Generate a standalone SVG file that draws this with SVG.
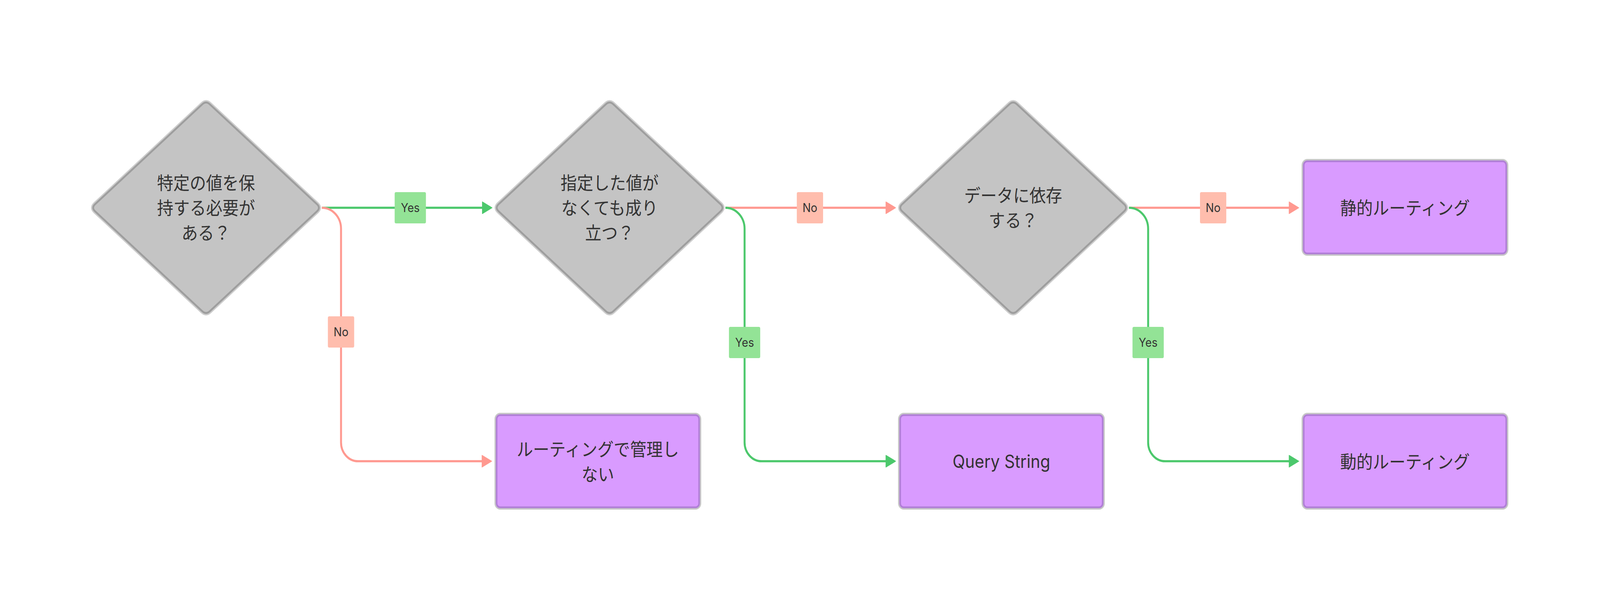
<svg xmlns="http://www.w3.org/2000/svg" xmlns:xlink="http://www.w3.org/1999/xlink" width="4504" height="1562" viewBox="0 0 4504 1562" preserveAspectRatio="none" style="width:100vw;height:100vh;display:block">
  <style>
    .dOuter { fill: #c4c4c4; stroke: #cdcdcd; stroke-width: 12; stroke-linejoin: round; }
    .dInner { fill: #c4c4c4; stroke: #9e9e9e; stroke-width: 5; stroke-linejoin: round; }
    .rOuter { fill: none; stroke: #c8c8c8; stroke-width: 12; }
    .rInner { fill: #d99bff; stroke: #b07fd6; stroke-width: 4.5; }
    .t { font-family: "Noto Sans CJK JP", "Inter", sans-serif; font-size: 46px; fill: #333333; text-anchor: middle; }
    .tl { font-family: "Inter", "Noto Sans CJK JP", sans-serif; font-size: 46px; fill: #333333; text-anchor: middle; }
    .eg { fill: none; stroke: #4cc86c; stroke-width: 5.5; }
    .er { fill: none; stroke: #ff9990; stroke-width: 5.5; }
    .lg { fill: #93e396; }
    .lr { fill: #ffbdad; }
    .lt { font-family: "Inter", "Liberation Sans", sans-serif; font-size: 31px; fill: #333333; text-anchor: middle; }
  </style>
  <defs>
    <path id="dshape" d="M10.68,-264.94 L312.32,-9.06 Q323,0 312.32,9.06 L10.68,264.94 Q0,274 -10.68,264.94 L-312.32,9.06 Q-323,0 -312.32,-9.06 L-10.68,-264.94 Q0,-274 10.68,-264.94 Z"/>
    <marker id="ag" markerUnits="userSpaceOnUse" markerWidth="32" markerHeight="34" viewBox="0 0 32 34" refX="1" refY="17" orient="auto">
      <path d="M1,2 L28,17 L1,32 Z" fill="#4cc86c" stroke="#4cc86c" stroke-width="2" stroke-linejoin="round"/>
    </marker>
    <marker id="ar" markerUnits="userSpaceOnUse" markerWidth="32" markerHeight="34" viewBox="0 0 32 34" refX="1" refY="17" orient="auto">
      <path d="M1,2 L28,17 L1,32 Z" fill="#ff9990" stroke="#ff9990" stroke-width="2" stroke-linejoin="round"/>
    </marker>
  </defs>
  <rect x="0" y="0" width="4504" height="1562" fill="#ffffff"/>

  <g id="connectors">
    <path id="e1" class="eg" d="M906,532 H1358" marker-end="url(#ag)"/>
    <path id="e2" class="er" d="M906,532 A54,54 0 0 1 960,586 V1133 A48,48 0 0 0 1008,1181 H1357" marker-end="url(#ar)"/>
    <path id="e3" class="er" d="M2042,532 H2494" marker-end="url(#ar)"/>
    <path id="e4" class="eg" d="M2042,532 A54,54 0 0 1 2096,586 V1133 A48,48 0 0 0 2144,1181 H2494" marker-end="url(#ag)"/>
    <path id="e5" class="er" d="M3178,532 H3629" marker-end="url(#ar)"/>
    <path id="e6" class="eg" d="M3178,532 A54,54 0 0 1 3232,586 V1133 A48,48 0 0 0 3280,1181 H3629" marker-end="url(#ag)"/>
    <g id="edge-labels">
      <rect class="lg" x="1111" y="492" width="88" height="80" rx="4"/>
      <text class="lt" x="1155" y="543">Yes</text>
      <rect class="lr" x="923" y="810" width="74" height="80" rx="4"/>
      <text class="lt" x="960" y="861">No</text>
      <rect class="lr" x="2243" y="492" width="74" height="80" rx="4"/>
      <text class="lt" x="2280" y="543">No</text>
      <rect class="lg" x="2052" y="837" width="88" height="80" rx="4"/>
      <text class="lt" x="2096" y="888">Yes</text>
      <rect class="lr" x="3378" y="492" width="74" height="80" rx="4"/>
      <text class="lt" x="3415" y="543">No</text>
      <rect class="lg" x="3188" y="837" width="88" height="80" rx="4"/>
      <text class="lt" x="3232" y="888">Yes</text>
    </g>
  </g>

  <g id="d1" transform="translate(580,532)">
    <use xlink:href="#dshape" href="#dshape" class="dOuter"/>
    <use xlink:href="#dshape" href="#dshape" class="dInner"/>
    <text class="t" x="0" y="-47">特定の値を保</text>
    <text class="t" x="0" y="17">持する必要が</text>
    <text class="t" x="0" y="81">ある？</text>
  </g>

  <g id="d2" transform="translate(1716,532)">
    <use xlink:href="#dshape" href="#dshape" class="dOuter"/>
    <use xlink:href="#dshape" href="#dshape" class="dInner"/>
    <text class="t" x="0" y="-47">指定した値が</text>
    <text class="t" x="0" y="17">なくても成り</text>
    <text class="t" x="0" y="81">立つ？</text>
  </g>

  <g id="d3" transform="translate(2852,532)">
    <use xlink:href="#dshape" href="#dshape" class="dOuter"/>
    <use xlink:href="#dshape" href="#dshape" class="dInner"/>
    <text class="t" x="0" y="-15">データに依存</text>
    <text class="t" x="0" y="49">する？</text>
  </g>

  <g id="r1">
    <rect class="rOuter" x="1398" y="1063" width="570" height="236" rx="10"/>
    <rect class="rInner" x="1398" y="1063" width="570" height="236" rx="10"/>
    <text class="t" x="1683" y="1167">ルーティングで管理し</text>
    <text class="t" x="1683" y="1231">ない</text>
  </g>

  <g id="r2">
    <rect class="rOuter" x="2534" y="1063" width="570" height="236" rx="10"/>
    <rect class="rInner" x="2534" y="1063" width="570" height="236" rx="10"/>
    <text class="tl" x="2819" y="1198">Query String</text>
  </g>

  <g id="r3">
    <rect class="rOuter" x="3670" y="413" width="570" height="236" rx="10"/>
    <rect class="rInner" x="3670" y="413" width="570" height="236" rx="10"/>
    <text class="t" x="3955" y="549">静的ルーティング</text>
  </g>

  <g id="r4">
    <rect class="rOuter" x="3670" y="1063" width="570" height="236" rx="10"/>
    <rect class="rInner" x="3670" y="1063" width="570" height="236" rx="10"/>
    <text class="t" x="3955" y="1199">動的ルーティング</text>
  </g>
</svg>
